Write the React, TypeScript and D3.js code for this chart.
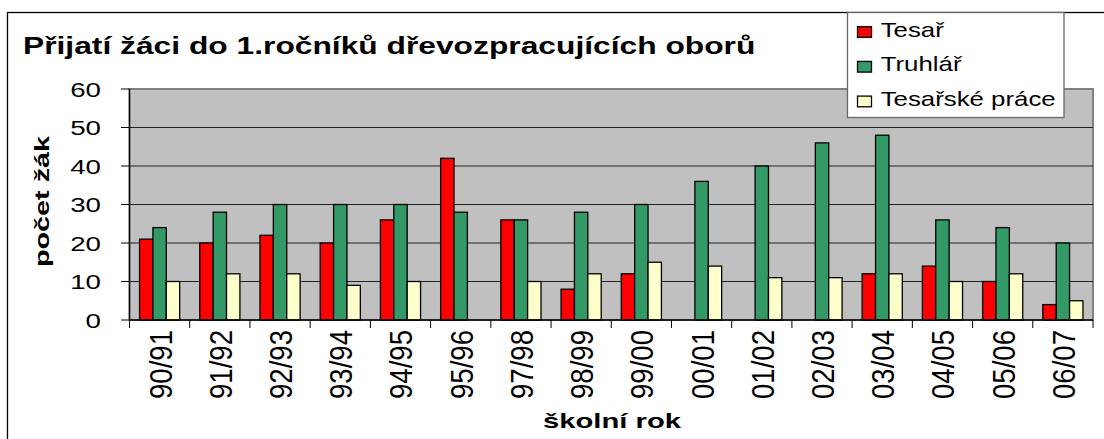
import React from 'react';
import * as d3 from 'd3';

// school years on the x axis
const years = ['90/91', '91/92', '92/93', '93/94', '94/95', '95/96', '97/98', '98/99', '99/00', '00/01', '01/02', '02/03', '03/04', '04/05', '05/06', '06/07'];

// admitted pupils per field
const tesar = [21, 20, 22, 20, 26, 42, 26, 8, 12, 0, 0, 0, 12, 14, 10, 4];
const truhlar = [24, 28, 30, 30, 30, 28, 26, 28, 30, 36, 40, 46, 48, 26, 24, 20];
const tesarskePrace = [10, 12, 12, 9, 10, 0, 10, 12, 15, 14, 11, 11, 12, 10, 12, 5];

const seriesNames = ['Tesař', 'Truhlář', 'Tesařské práce'];
const seriesColors = ['#FF0000', '#339966', '#FFFFCC'];
const yTicks = [0, 10, 20, 30, 40, 50, 60];

const W = 1104;
const H = 439;
const font = '"Liberation Sans", Arial, sans-serif';

const App: React.FC = () => {
    const plot = { left: 129.5, right: 1093, top: 89, bottom: 320 };
    const seriesData = [tesar, truhlar, tesarskePrace];

    const x = d3.scaleBand<string>()
        .domain(years)
        .range([plot.left, plot.right]);

    // Excel style: gap width 150% of a bar
    const barW = x.bandwidth() / 4.5;
    const xSub = d3.scaleBand<number>()
        .domain([0, 1, 2])
        .range([0, barW * 3]);

    const y = d3.scaleLinear()
        .domain([0, 60])
        .range([plot.bottom, plot.top]);

    const boundaries = years.map(d => x(d) as number).concat([plot.right]);

    return (
        <svg width={W} height={H} style={{ position: 'absolute', left: 0, top: 0, background: '#fff' }}>
            {/* outer chart border */}
            <rect x={7.5} y={12.5} width={1110} height={440} fill="#fff" stroke="#000" strokeWidth={1.3} />

            {/* title */}
            <text transform="translate(23,54) scale(1.324,1)" fontFamily={font} fontWeight="bold" fontSize={24} fill="#000">
                Přijatí žáci do 1.ročníků dřevozpracujících oborů
            </text>

            {/* plot area */}
            <rect x={plot.left} y={plot.top} width={plot.right - plot.left} height={plot.bottom - plot.top}
                fill="#C0C0C0" stroke="#808080" strokeWidth={2} />

            {/* gridlines */}
            {yTicks.filter(t => t > 0 && t < 60).map(t => (
                <line key={'g' + t} x1={plot.left} x2={plot.right} y1={y(t)} y2={y(t)} stroke="#222" strokeWidth={1} />
            ))}

            {/* bars */}
            {seriesData.map((vals, si) => (
                <g key={'s' + si}>
                    {vals.map((v, i) => v > 0 ? (
                        <rect key={i}
                            x={(x(years[i]) as number) + (x.bandwidth() - barW * 3) / 2 + (xSub(si) as number)}
                            y={y(v)}
                            width={xSub.bandwidth()}
                            height={y(0) - y(v)}
                            fill={seriesColors[si]}
                            stroke="#000"
                            strokeWidth={1.3} />
                    ) : null)}
                </g>
            ))}

            {/* y axis */}
            <line x1={plot.left} x2={plot.left} y1={plot.top} y2={plot.bottom} stroke="#000" strokeWidth={1.3} />
            {yTicks.map(t => (
                <g key={'y' + t}>
                    <line x1={121} x2={plot.left} y1={y(t)} y2={y(t)} stroke="#000" strokeWidth={1} />
                    <text transform={`translate(101,${y(t) + 7.5}) scale(1.35,1)`} textAnchor="end"
                        fontFamily={font} fontSize={20.5} fill="#000">{t}</text>
                </g>
            ))}

            {/* x axis */}
            <line x1={plot.left} x2={plot.right} y1={plot.bottom} y2={plot.bottom} stroke="#000" strokeWidth={1.3} />
            {boundaries.map((bx, i) => (
                <line key={'t' + i} x1={bx} x2={bx} y1={plot.bottom} y2={plot.bottom + 8} stroke="#000" strokeWidth={1} />
            ))}
            {years.map(d => (
                <text key={d}
                    transform={`translate(${(x(d) as number) + x.bandwidth() / 2 + 12},330) rotate(-90) scale(1.06,1.2)`}
                    textAnchor="end" fontFamily={font} fontSize={26} fill="#000">{d}</text>
            ))}

            {/* axis titles */}
            <text transform="translate(49,201.5) rotate(-90) scale(1.31,0.885)" textAnchor="middle"
                fontFamily={font} fontWeight="bold" fontSize={22} fill="#000">počet žák</text>
            <text transform="translate(612,428.3) scale(1.46,1)" textAnchor="middle"
                fontFamily={font} fontWeight="bold" fontSize={20} fill="#000">školní rok</text>

            {/* legend */}
            <rect x={847.5} y={12.5} width={216.5} height={105} fill="#fff" stroke="#666" strokeWidth={1.3} />
            {seriesNames.map((name, i) => (
                <g key={name}>
                    <rect x={857.5} y={26.7 + i * 34.7} width={14} height={10.7} fill={seriesColors[i]} stroke="#000" strokeWidth={1.3} />
                    <text transform={`translate(880.7,${36.7 + i * 34.7}) scale(1.23,1)`}
                        fontFamily={font} fontSize={21} fill="#000">{name}</text>
                </g>
            ))}
        </svg>
    );
};

export default App;
